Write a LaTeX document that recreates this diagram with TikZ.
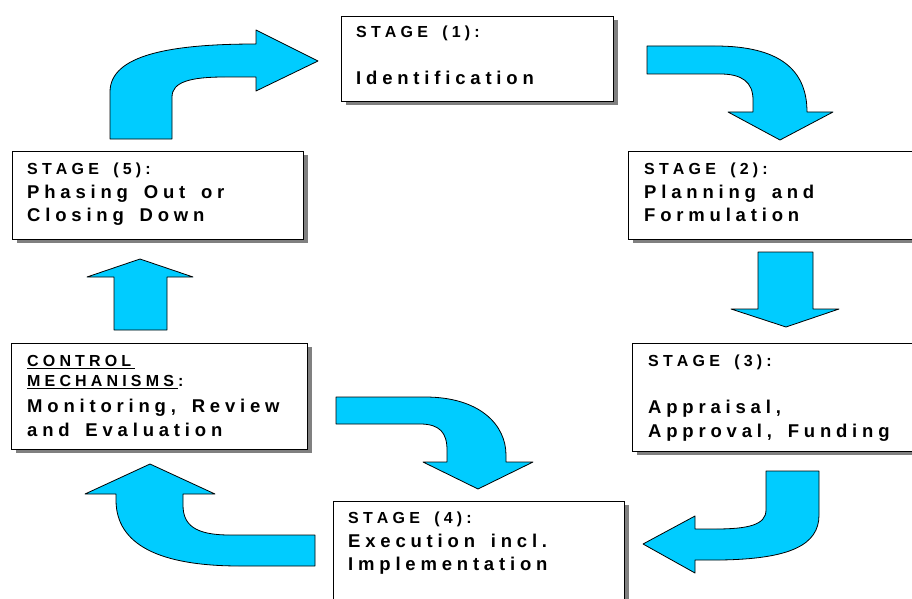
\documentclass[tikz,border=0pt]{standalone}
\usepackage{fontspec}
\setmainfont{Liberation Sans}
\usepackage{tikz}
\usetikzlibrary{shadows}

\definecolor{arrowblue}{RGB}{0,204,255}
\ExplSyntaxOn
\NewDocumentCommand \spaced { m } { \tl_map_inline:nn { #1 } { ##1 \kern 0.26em } }
\ExplSyntaxOff
\newcommand\stagehead[1]{{\fontsize{16}{23.5}\selectfont #1}}

\begin{document}
\begin{tikzpicture}[x=1pt,y=-1pt,
    stage_box/.style={draw=black,fill=white,line width=0.8pt,inner sep=0pt,
        drop shadow={shadow xshift=5pt,shadow yshift=-4pt,fill=black!50,opacity=1}},
    stage_text/.style={anchor=base west,inner sep=0pt,text width=290pt,align=left,
        font={\fontsize{18.5}{23.5}\selectfont\bfseries}},
    flow_arrow/.style={draw=black,fill=arrowblue,line width=0.8pt,line join=round}]
    \useasboundingbox (0,0) rectangle (912,599);
    \clip (0,0) rectangle (912,599);

    % boxes
    \node[stage_box,minimum width=272pt,minimum height=85pt] (s1) at (477,58.5) {};
    \node[stage_box,minimum width=332pt,minimum height=88pt] (s2) at (794,195) {};
    \node[stage_box,minimum width=328pt,minimum height=108pt] (s3) at (796,397) {};
    \node[stage_box,minimum width=291pt,minimum height=139pt] (s4) at (478.5,570.5) {};
    \node[stage_box,minimum width=291pt,minimum height=88pt] (s5) at (157.5,195) {};
    \node[stage_box,minimum width=296pt,minimum height=106pt] (cm) at (159,396) {};

    % texts
    \node[stage_text] (s1_text) at (356,37.5) {\stagehead{\spaced{STAGE~(1):}}\\[23.5pt]\spaced{Identification}};
    \node[stage_text] (s2_text) at (644,174.5) {\stagehead{\spaced{STAGE~(2):}}\\\spaced{Planning~and}\\\spaced{Formulation}};
    \node[stage_text] (s3_text) at (648,366.5) {\stagehead{\spaced{STAGE~(3):}}\\[23.5pt]\spaced{Appraisal,}\\\spaced{Approval,~Funding}};
    \node[stage_text] (s4_text) at (348,523.5) {\stagehead{\spaced{STAGE~(4):}}\\\spaced{Execution~incl.}\\\spaced{Implementation}};
    \node[stage_text] (s5_text) at (27,174.5) {\stagehead{\spaced{STAGE~(5):}}\\\spaced{Phasing~Out~or}\\\spaced{Closing~Down}};
    \node[stage_text] (cm_text) at (27,366.5) {\stagehead{\underline{\spaced{CONTROL}}}\\[-3.5pt]
        \stagehead{\underline{\spaced{MECHANISMS}}\spaced{:}}\\[2.5pt]\spaced{Monitoring,~Review}\\\spaced{and~Evaluation}};

    % arrows
    \draw[flow_arrow] (110,139) -- (110,92) .. controls (110,55) and (170,44) .. (256,44)
        -- (256,30) -- (318,61) -- (256,91) -- (256,77) -- (225,77)
        .. controls (190,77) and (172,82) .. (172,97) -- (172,139) -- cycle;
    \draw[flow_arrow] (647,46) -- (715,46) .. controls (780,46) and (807,70) .. (807,112)
        -- (833,112) -- (780,140) -- (728,112) -- (753,112) -- (753,100)
        .. controls (753,82) and (742,74) .. (720,74) -- (647,74) -- cycle;
    \draw[flow_arrow] (758,252) -- (813,252) -- (813,309) -- (839,309) -- (786,327)
        -- (731,309) -- (758,309) -- cycle;
    \draw[flow_arrow] (766,471) -- (766,510) .. controls (766,525) and (748,529) .. (715,529)
        -- (695,529) -- (695,516) -- (643,544) -- (695,573) -- (695,560) -- (720,560)
        .. controls (790,559) and (819,545) .. (819,515) -- (819,471) -- cycle;
    \draw[flow_arrow] (336,397) -- (425,397) .. controls (480,397) and (506,425) .. (506,455)
        -- (506,462) -- (533,462) -- (478,489) -- (423,462) -- (447,462) -- (447,450)
        .. controls (447,433) and (440,424) .. (420,424) -- (336,424) -- cycle;
    \draw[flow_arrow] (315,535) -- (230,535) .. controls (195,535) and (183,525) .. (183,505)
        -- (183,494) -- (215,494) -- (150,464) -- (85,494) -- (116,494) -- (116,500)
        .. controls (116,545) and (160,566) .. (240,566) -- (315,566) -- cycle;
    \draw[flow_arrow] (114,330) -- (114,277) -- (87,277) -- (140,259) -- (193,277)
        -- (167,277) -- (167,330) -- cycle;
\end{tikzpicture}
\end{document}
